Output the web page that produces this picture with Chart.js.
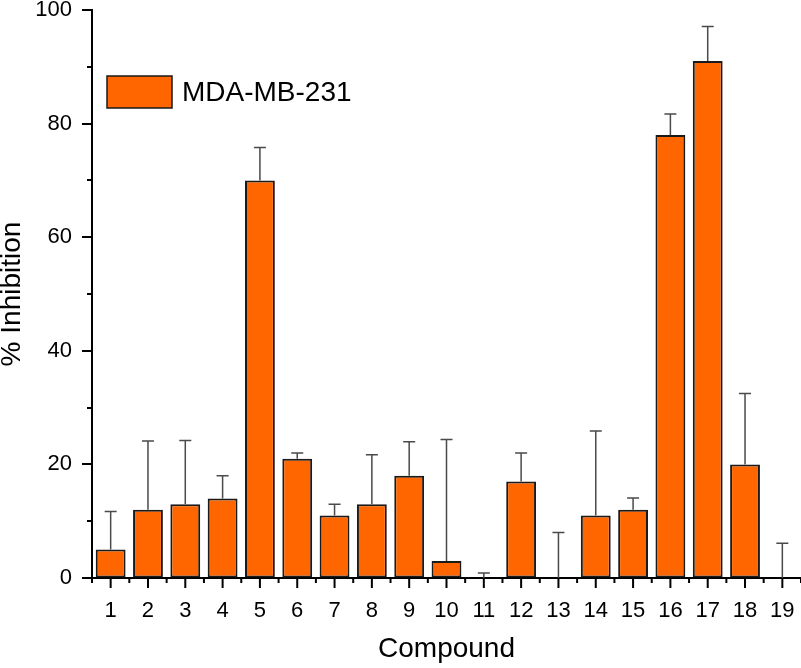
<!DOCTYPE html>
<html>
<head>
<meta charset="utf-8">
<script src="https://cdn.jsdelivr.net/npm/chart.js@4/dist/chart.umd.min.js"></script>
<style>
  html, body { margin: 0; padding: 0; background: #fff; }
  #wrap { width: 801px; height: 668px; position: relative; }
</style>
</head>
<body>
<div id="wrap"><canvas id="c" width="801" height="668"></canvas></div>
<script>
const categories = ['1','2','3','4','5','6','7','8','9','10','11','12','13','14','15','16','17','18','19'];
const inhibition = [5, 12, 13, 14, 70, 21, 11, 13, 18, 3, 0, 17, 0, 11, 12, 78, 91, 20, 0];
const errorUpper = [6.7, 12.1, 11.2, 4.0, 5.8, 1.0, 2.0, 8.7, 6.0, 21.4, 0.9, 5.0, 8.0, 14.9, 2.1, 3.7, 6.1, 12.5, 6.1];
const seriesName = 'MDA-MB-231';
const yMin = 0, yMax = 100, yMajorStep = 20;

const FONT = '"Liberation Sans", Arial, Helvetica, sans-serif';
const BAR_FILL = '#FF6600';
const BAR_EDGE = '#1a1a1a';

const errorBarPlugin = {
  id: 'errorBars',
  afterDatasetsDraw(chart) {
    const ctx = chart.ctx;
    const meta = chart.getDatasetMeta(0);
    const ys = chart.scales.y;
    ctx.save();
    ctx.strokeStyle = '#4a4a4a';
    ctx.lineWidth = 1.5;
    meta.data.forEach((bar, i) => {
      const x = bar.x;
      const yTop = ys.getPixelForValue(inhibition[i] + errorUpper[i]);
      const yBase = ys.getPixelForValue(inhibition[i]);
      ctx.beginPath();
      ctx.moveTo(x, yBase);
      ctx.lineTo(x, yTop);
      ctx.moveTo(x - 6, yTop);
      ctx.lineTo(x + 6, yTop);
      ctx.stroke();
    });
    ctx.restore();
  }
};

const ticksPlugin = {
  id: 'axisTicks',
  afterDraw(chart) {
    const ctx = chart.ctx;
    const xs = chart.scales.x, ys = chart.scales.y;
    const area = chart.chartArea;
    ctx.save();
    ctx.strokeStyle = '#000';
    ctx.lineWidth = 2;
    for (let v = yMin; v <= yMax; v += yMajorStep / 2) {
      const y = Math.round(ys.getPixelForValue(v));
      const major = (v % yMajorStep) === 0;
      ctx.beginPath();
      ctx.moveTo(area.left - (major ? 10 : 5), y);
      ctx.lineTo(area.left, y);
      ctx.stroke();
    }
    const n = categories.length;
    const step = n > 1 ? xs.getPixelForValue(1) - xs.getPixelForValue(0) : 0;
    for (let i = 0; i < n; i++) {
      const x = xs.getPixelForValue(i);
      ctx.beginPath();
      ctx.moveTo(x, area.bottom);
      ctx.lineTo(x, area.bottom + 10);
      ctx.stroke();
    }
    for (let i = 0; i <= n; i++) {
      const x = xs.getPixelForValue(0) + (i - 0.5) * step;
      ctx.beginPath();
      ctx.moveTo(x, area.bottom);
      ctx.lineTo(x, area.bottom + 5);
      ctx.stroke();
    }
    ctx.restore();
  }
};

const legendPlugin = {
  id: 'insideLegend',
  afterDraw(chart) {
    const ctx = chart.ctx;
    const ds = chart.data.datasets[0];
    ctx.save();
    ctx.fillStyle = ds.backgroundColor;
    ctx.fillRect(107, 76, 65, 32);
    ctx.strokeStyle = ds.borderColor;
    ctx.lineWidth = 1.5;
    ctx.strokeRect(107, 76, 65, 32);
    ctx.fillStyle = '#000';
    ctx.font = '28px ' + FONT;
    ctx.textBaseline = 'middle';
    ctx.textAlign = 'left';
    ctx.fillText(ds.label, 182, 93);
    ctx.restore();
  }
};

new Chart(document.getElementById('c'), {
  type: 'bar',
  data: {
    labels: categories,
    datasets: [{
      label: seriesName,
      data: inhibition,
      backgroundColor: BAR_FILL,
      borderColor: BAR_EDGE,
      borderWidth: 2,
      borderSkipped: false,
      barPercentage: 0.8,
      categoryPercentage: 1.0
    }]
  },
  options: {
    responsive: false,
    animation: false,
    devicePixelRatio: 1,
    layout: { padding: { top: 10, right: 0, left: 0, bottom: 0 } },
    plugins: { legend: { display: false }, tooltip: { enabled: false } },
    scales: {
      x: {
        offset: true,
        grid: { display: true, drawOnChartArea: false, drawTicks: false },
        border: { display: true, color: '#000', width: 2 },
        ticks: { color: '#000', font: { family: FONT, size: 22 }, padding: 20, maxRotation: 0, autoSkip: false },
        title: { display: true, text: 'Compound', color: '#000', font: { family: FONT, size: 28 }, padding: { top: 4, bottom: 2 } },
        afterFit(scale) { scale.height = 90; scale.paddingLeft = 0; scale.paddingRight = 0; }
      },
      y: {
        min: yMin, max: yMax,
        grid: { display: true, drawOnChartArea: false, drawTicks: false },
        border: { display: true, color: '#000', width: 2 },
        ticks: { stepSize: yMajorStep, color: '#000', font: { family: FONT, size: 22 }, padding: 20 },
        title: { display: true, text: '% Inhibition', color: '#000', font: { family: FONT, size: 28, lineHeight: 0.85 }, padding: { top: 0, bottom: 0 } },
        afterFit(scale) { scale.width = 92; scale.paddingTop = 0; scale.paddingBottom = 0; }
      }
    }
  },
  plugins: [errorBarPlugin, ticksPlugin, legendPlugin]
});
</script>
</body>
</html>
